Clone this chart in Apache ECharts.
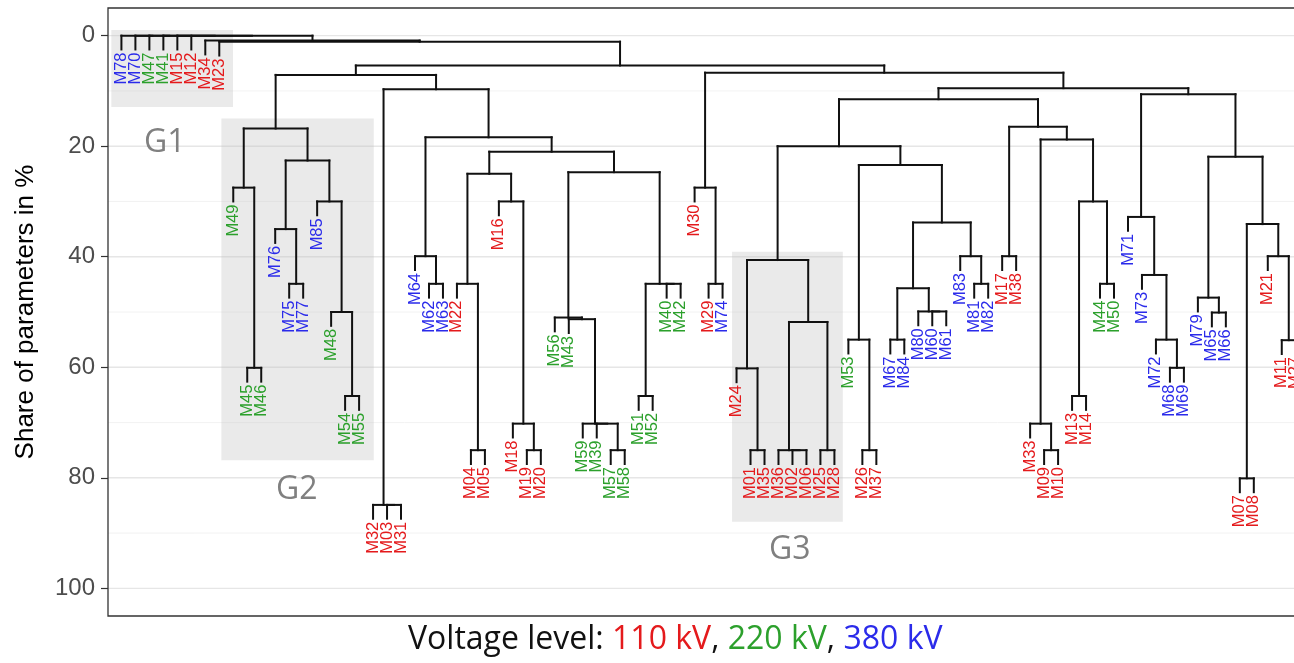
<!DOCTYPE html>
<html><head><meta charset="utf-8">
<script src="https://cdn.jsdelivr.net/npm/echarts@6/dist/echarts.min.js"></script>
<style>html,body{margin:0;padding:0;background:#fff}#c{width:1294px;height:663px}</style>
</head><body><div id="c"></div>
<script>
// ---- data ----
const leaves = ['M78','M70','M47','M41','M15','M12','M34','M23','M49','M45','M46','M76','M75','M77','M85','M48','M54','M55','M32','M03','M31','M64','M62','M63','M22','M04','M05','M16','M18','M19','M20','M56','M43','M59','M39','M57','M58','M51','M52','M40','M42','M30','M29','M74','M24','M01','M35','M36','M02','M06','M25','M28','M53','M26','M37','M67','M84','M80','M60','M61','M83','M81','M82','M17','M38','M33','M09','M10','M13','M14','M44','M50','M71','M73','M72','M68','M69','M79','M65','M66','M07','M08','M21','M11','M27'];
const voltage = [380,380,220,220,110,110,110,110,220,220,220,380,380,380,380,220,220,220,110,110,110,380,380,380,110,110,110,110,110,110,110,220,220,220,220,220,220,220,220,220,220,110,110,380,110,110,110,110,110,110,110,110,220,110,110,380,380,380,380,380,380,380,380,110,110,110,110,110,110,110,220,220,380,380,380,380,380,380,380,380,110,110,110,110,110];
// merges: [node, left child, right child, height (share of parameters in %)]
const merges = [
  ['g2a','M45','M46',60.1], ['g2b','M49','g2a',27.5],
  ['g2c','M75','M77',44.9], ['g2d','M76','g2c',35.0],
  ['g2e','M54','M55',65.2], ['g2f','M48','g2e',50.0], ['g2g','M85','g2f',30.0],
  ['g2h','g2d','g2g',22.6], ['g2','g2b','g2h',16.8],
  ['a1','M03','M31',84.9], ['a2','M32','a1',84.9],
  ['b1','M62','M63',44.9], ['b2','M64','b1',39.9],
  ['c1','M04','M05',75.0], ['c2','M22','c1',44.9],
  ['d1','M19','M20',75.0], ['d2','M18','d1',70.2], ['d3','M16','d2',30.0],
  ['c3','c2','d3',25.0],
  ['e1','M57','M58',75.0], ['e2','M39','e1',70.2], ['e3','M59','e2',70.2],
  ['e4','M43','e3',51.3], ['e5','M56','e4',51.0],
  ['f1','M51','M52',65.2], ['f2','M40','M42',44.9], ['f3','f1','f2',44.9],
  ['e6','e5','f3',24.7], ['c4','c3','e6',21.0], ['b3','b2','c4',18.4],
  ['a3','a2','b3',9.7], ['L','g2','a3',7.1],
  ['r1','M29','M74',44.9], ['r2','M30','r1',27.5],
  ['g3a','M01','M35',75.0], ['g3b','M24','g3a',60.2],
  ['g3c','M02','M06',75.0], ['g3d','M36','g3c',75.0], ['g3e','M25','M28',75.0],
  ['g3f','g3d','g3e',51.8], ['g3','g3b','g3f',40.6],
  ['h1','M26','M37',75.0], ['h2','M53','h1',55.0],
  ['i1','M67','M84',55.0], ['i2','M60','M61',49.9], ['i3','M80','i2',49.9],
  ['i4','i1','i3',45.7], ['i5','M81','M82',44.9], ['i6','M83','i5',39.9],
  ['i7','i4','i6',33.8], ['h3','h2','i7',23.4], ['h4','g3','h3',20.0],
  ['j1','M17','M38',39.9], ['j2','M09','M10',75.0], ['j3','M33','j2',70.2],
  ['j4','M13','M14',65.2], ['j5','M44','M50',44.9], ['j6','j4','j5',30.0],
  ['j7','j3','j6',18.8], ['j8','j1','j7',16.5], ['k1','h4','j8',11.5],
  ['m1','M68','M69',60.1], ['m2','M72','m1',55.0], ['m3','M73','m2',43.3], ['m4','M71','m3',32.8],
  ['m5','M65','M66',50.1], ['m6','M79','m5',47.4],
  ['m7','M07','M08',80.1], ['m8','M11','M27',55.1], ['m9','M21','m8',39.9],
  ['m10','m7','m9',34.1], ['m11','m6','m10',21.9], ['m12','m4','m11',10.6],
  ['k2','k1','m12',9.5], ['R','r2','k2',6.7],
  ['main','L','R',5.4],
  ['B','M23','main',1.1], ['Y','M34','B',0.9],
  ['t1','M12','Y',0], ['t2','M15','t1',0], ['t3','M41','t2',0], ['t4','M47','t3',0], ['t5','M70','t4',0], ['root','M78','t5',0]
];
const yTicks = [0,20,40,60,80,100];
const yMinor = [10,30,50,70,90];
const groupNames = ['G1','G2','G3'];
// highlighted groups: [leaf-from, leaf-to, share-from, share-to], label anchor [leaf, share]
const groupBoxes = [[0.28,8.98,-1.0,12.9],[8.15,19.05,15.0,76.8],[44.68,52.6,39.1,87.95]];
const groupLabelAt = [[4.1,19.4],[13.55,82.2],[48.8,93.1]];
const hang = 2.5;
const colorOf = {110:'#e41a1c', 220:'#2ca02c', 380:'#2b2bea'};

// ---- build segments from the tree ----
const pos = {};
leaves.forEach((n,i)=>{ pos[n] = {x:i+1, h:null, leaf:true}; });
const segs = [];
const leafEnd = {};
merges.forEach(([id,a,b,h])=>{
  const A = pos[a], B = pos[b];
  segs.push([A.x,h,B.x,h]);
  [[a,A],[b,B]].forEach(([nm,c])=>{
    const bottom = c.leaf ? h + hang : c.h;
    if (c.leaf) leafEnd[nm] = bottom;
    if (bottom !== h) segs.push([c.x,h,c.x,bottom]);
  });
  pos[id] = {x:(A.x+B.x)/2, h:h, leaf:false};
});
const labelData = leaves.map((n,i)=>[i+1, leafEnd[n]]);

// the panel runs past the right edge of the picture: 1186 px shows leaves up to ~84.9
const xMin = 0.04, xMax = 84.875;

const chart = echarts.init(document.getElementById('c'), null, {renderer:'canvas'});
chart.setOption({
  animation:false,
  backgroundColor:'#ffffff',
  grid:{left:108, top:8, right:0, bottom:47, show:false},
  xAxis:{type:'value', min:xMin, max:xMax, show:false},
  yAxis:{type:'value', inverse:true, min:-5, max:105,
    axisLine:{show:false}, splitLine:{show:false},
    axisTick:{show:true, length:7, lineStyle:{color:'#333333', width:1.2}, customValues:yTicks},
    axisLabel:{customValues:yTicks, color:'#4d4d4d', fontSize:24, margin:13, fontFamily:'Liberation Sans'},
    name:'Share of parameters in %', nameLocation:'middle', nameGap:69,
    nameTextStyle:{fontSize:26, color:'#000', fontFamily:'Liberation Sans'}
  },
  title:{left:403, top:619, text:'{a|Voltage level: }{r|110 kV}{a|, }{g|220 kV}{a|, }{b|380 kV}',
    textStyle:{fontWeight:'normal', rich:{
      a:{fontSize:32, fontWeight:'normal', color:'#111', fontFamily:'Open Sans'},
      r:{fontSize:32, fontWeight:'normal', color:colorOf[110], fontFamily:'Open Sans'},
      g:{fontSize:32, fontWeight:'normal', color:colorOf[220], fontFamily:'Open Sans'},
      b:{fontSize:32, fontWeight:'normal', color:colorOf[380], fontFamily:'Open Sans'}}}},
  series:[
    { type:'custom', z:1, silent:true,
      data: yTicks.map(v=>[v,1]).concat(yMinor.map(v=>[v,0])),
      encode:{y:0},
      renderItem:(params, api)=>{
        const cs = params.coordSys;
        const y = api.coord([1, api.value(0)])[1];
        const major = api.value(1) === 1;
        return {type:'line', shape:{x1:cs.x, y1:y, x2:cs.x+cs.width, y2:y},
          style:{stroke: major ? '#e6e6e6' : '#f1f1f1', lineWidth: major ? 1.4 : 0.9}};
      }
    },
    { type:'custom', z:2, silent:true,
      data: groupBoxes,
      encode:{x:[0,1], y:[2,3]},
      renderItem:(params, api)=>{
        const p1 = api.coord([api.value(0), api.value(2)]);
        const p2 = api.coord([api.value(1), api.value(3)]);
        return {type:'rect', shape:{x:p1[0], y:p1[1], width:p2[0]-p1[0], height:p2[1]-p1[1]},
          style:{fill:'rgba(190,190,190,0.32)'}};
      }
    },
    { type:'custom', z:3, silent:true,
      data: segs,
      encode:{x:[0,2], y:[1,3]},
      renderItem:(params, api)=>{
        const p1 = api.coord([api.value(0), api.value(1)]);
        const p2 = api.coord([api.value(2), api.value(3)]);
        return {type:'line', shape:{x1:p1[0], y1:p1[1], x2:p2[0], y2:p2[1]},
          style:{stroke:'#111', lineWidth:2, lineCap:'square'}};
      }
    },
    { type:'custom', z:4, silent:true,
      data: labelData,
      encode:{x:0, y:1},
      renderItem:(params, api)=>{
        const p = api.coord([api.value(0), api.value(1)]);
        const i = params.dataIndex;
        return {type:'text', x:p[0], y:p[1]+3, rotation:Math.PI/2,
          style:{text:leaves[i], fill:colorOf[voltage[i]], fontSize:16.5, fontFamily:'Liberation Sans',
            align:'right', verticalAlign:'middle'}};
      }
    },
    { type:'custom', z:4, silent:true,
      data: groupLabelAt,
      encode:{x:0, y:1},
      renderItem:(params, api)=>{
        const p = api.coord([api.value(0), api.value(1)]);
        return {type:'text', x:p[0], y:p[1],
          style:{text:groupNames[params.dataIndex], fill:'#808080', fontSize:32, fontFamily:'Open Sans',
            align:'center', verticalAlign:'middle'}};
      }
    },
    { type:'custom', z:5, silent:true,
      data: [[0]],
      renderItem:(params, api)=>{
        const cs = params.coordSys;
        const x0 = cs.x, y0 = cs.y, x1 = cs.x + cs.width + 20, y1 = cs.y + cs.height;
        return {type:'polyline', shape:{points:[[x1,y0],[x0,y0],[x0,y1],[x1,y1]]},
          style:{stroke:'#333333', lineWidth:1.3, fill:null}};
      }
    }
  ]
});
</script></body></html>
